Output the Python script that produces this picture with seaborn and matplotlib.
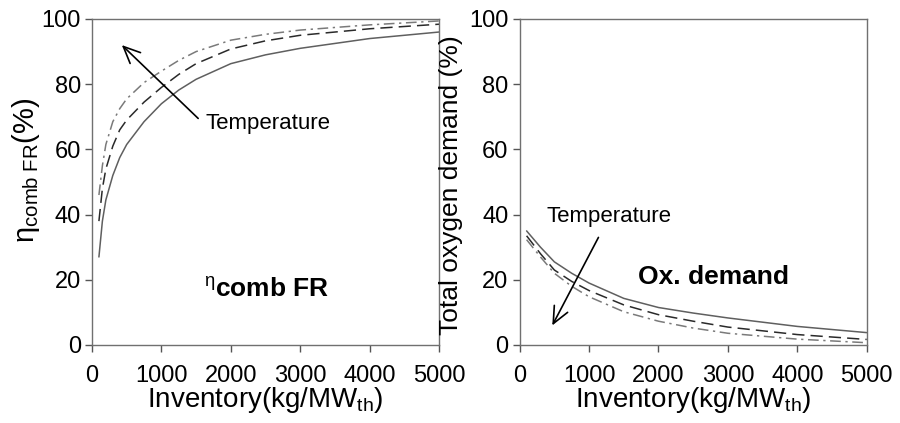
import numpy as np
import pandas as pd
import matplotlib
matplotlib.use("Agg")
import matplotlib.pyplot as plt
import seaborn as sns

# ---- data ----
inventory = [100, 150, 200, 300, 400, 500, 750, 1000, 1250, 1500, 2000, 2500, 3000, 4000, 5000]
eta_solid = [27, 38, 44.5, 52, 57.5, 61.5, 68.5, 74, 78.2, 81.5, 86.3, 89, 91, 94, 96]
eta_dashed = [38, 48, 54, 61, 66, 69, 74.5, 79, 83, 86.3, 90.8, 93.3, 95, 97, 98.4]
eta_dashdot = [46, 55, 61.5, 68.5, 72.5, 75.5, 80.5, 84, 87.3, 90, 93.5, 95.3, 96.6, 98.2, 99.4]

ox_x = [100, 300, 500, 750, 1000, 1500, 2000, 2500, 3000, 4000, 5000]
ox_solid = [35, 30, 25.5, 22, 19, 14.3, 11.5, 9.8, 8.3, 5.7, 3.8]
ox_dashed = [33.5, 28, 23, 19.5, 16.7, 12.3, 9.3, 7.3, 5.5, 3.2, 1.7]
ox_dashdot = [32.3, 27, 22, 18, 14.8, 10.2, 7.3, 5.2, 3.6, 1.8, 0.7]

x_ticks = [0, 1000, 2000, 3000, 4000, 5000]
y_ticks = [0, 20, 40, 60, 80, 100]

sns.set_theme(style="white")
plt.rcParams['font.family'] = ['Liberation Sans', 'DejaVu Sans']
plt.rcParams['mathtext.fontset'] = 'custom'
plt.rcParams['mathtext.rm'] = 'Liberation Sans'
plt.rcParams['mathtext.it'] = 'Liberation Sans:italic'
plt.rcParams['mathtext.bf'] = 'Liberation Sans:bold'
plt.rcParams['text.color'] = 'black'
plt.rcParams['axes.labelcolor'] = 'black'
plt.rcParams['xtick.color'] = 'black'
plt.rcParams['ytick.color'] = 'black'

fig = plt.figure(figsize=(9, 4.23), dpi=100)
axL = fig.add_axes([0.1022, 0.1844, 0.3856, 0.7707])
axR = fig.add_axes([0.5774, 0.1844, 0.3856, 0.7707])

styles = [
    ("solid", "#5f5f5f", None),
    ("dashed", "#2a2a2a", (8, 4)),
    ("dashdot", "#7a7a7a", (7, 3, 1.5, 3)),
]

def draw(ax, xs, series):
    for (name, col, dash), ys in zip(styles, series):
        sns.lineplot(x=xs, y=ys, ax=ax, color=col, lw=1.1, legend=False)
        line = ax.get_lines()[-1]
        if dash is not None:
            line.set_dashes(dash)

draw(axL, inventory, [eta_solid, eta_dashed, eta_dashdot])
draw(axR, ox_x, [ox_solid, ox_dashed, ox_dashdot])

for ax in (axL, axR):
    ax.set_xlim(0, 5000)
    ax.set_ylim(0, 100)
    ax.set_xticks(x_ticks)
    ax.set_yticks(y_ticks)
    for s in ax.spines.values():
        s.set_visible(True)
        s.set_color("#707070")
        s.set_linewidth(1.0)
    ax.tick_params(axis='x', direction='out', length=5, width=1, color="#555555",
                   labelsize=17, pad=9.5, bottom=True)
    ax.tick_params(axis='y', direction='out', length=5, width=1, color="#555555",
                   labelsize=17, pad=3, left=True)
    ax.set_xlabel(r'Inventory(kg/MW$_{\mathrm{th}}$)', fontsize=20)
    ax.xaxis.set_label_coords(0.5, -0.123)

axL.set_ylabel(r'η$_{\mathrm{comb\ FR}}$(%)', fontsize=21)
axL.yaxis.set_label_coords(-0.144, 0.537)
axR.set_ylabel('Total oxygen demand (%)', fontsize=19)
axR.yaxis.set_label_coords(-0.163, 0.49)

arrow = dict(arrowstyle='->,head_length=1.0,head_width=0.45', color='black', lw=1.2,
             shrinkA=0, shrinkB=0)
axL.annotate('', xy=(430, 92), xytext=(1530, 69.5), arrowprops=arrow)
axL.text(1640, 68, 'Temperature', fontsize=16, va='center', ha='left')
axL.text(2520, 17, r'$^{\mathrm{η}}\mathbf{comb\ FR}$', fontsize=19, fontweight='bold',
         ha='center', va='center')

axR.annotate('', xy=(470, 6), xytext=(1135, 33), arrowprops=arrow)
axR.text(1280, 39.5, 'Temperature', fontsize=16, va='center', ha='center')
axR.text(2790, 21, 'Ox. demand', fontsize=19, fontweight='bold', ha='center', va='center')

fig.savefig('out.png', dpi=100)
